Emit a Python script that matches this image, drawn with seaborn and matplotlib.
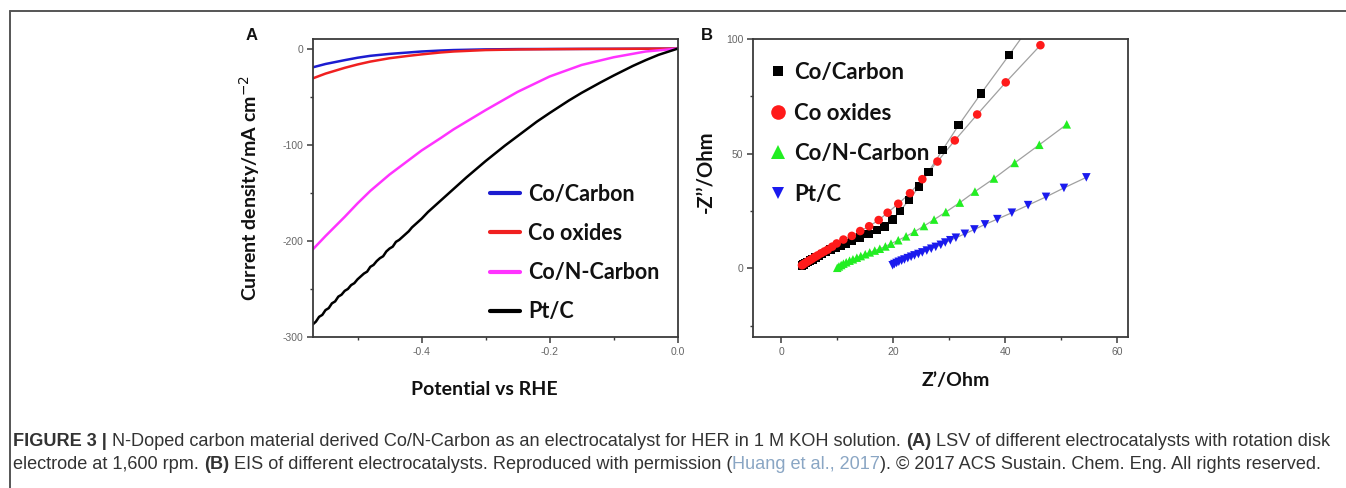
import numpy as np
import pandas as pd
import matplotlib
matplotlib.use("Agg")
import matplotlib.pyplot as plt
import seaborn as sns
from matplotlib.lines import Line2D
from matplotlib.ticker import MultipleLocator
from matplotlib import font_manager

# ---------------- Panel A: LSV curves ----------------
lsv_potential = [-0.57, -0.55, -0.52, -0.50, -0.48, -0.45, -0.42, -0.40, -0.37,
                 -0.35, -0.30, -0.25, -0.20, -0.15, -0.10, -0.05, 0.0]
co_carbon_j = [-19.5, -16.0, -12.0, -9.5, -7.5, -5.5, -4.0, -3.0, -2.0,
               -1.5, -0.8, -0.5, -0.4, -0.3, -0.2, -0.1, 0.0]
co_oxides_j = [-31.0, -26.0, -20.0, -16.5, -13.5, -10.0, -7.5, -6.0, -4.0,
               -3.0, -1.5, -0.9, -0.6, -0.4, -0.3, -0.1, 0.0]
con_carbon_j = [-209.0, -195.0, -175.0, -161.0, -148.0, -131.0, -116.0, -106.0, -93.0,
                -84.0, -64.0, -45.0, -29.0, -17.0, -9.0, -3.0, 0.0]

ptc_potential = [-0.57, -0.565, -0.56, -0.555, -0.55, -0.545, -0.54, -0.535, -0.53,
                 -0.525, -0.52, -0.515, -0.51, -0.505, -0.50, -0.495, -0.49, -0.485,
                 -0.48, -0.475, -0.47, -0.465, -0.46, -0.455, -0.45, -0.445, -0.44,
                 -0.435, -0.43, -0.425, -0.42, -0.415, -0.41, -0.40, -0.39, -0.38,
                 -0.37, -0.36, -0.35, -0.33, -0.30, -0.27, -0.25, -0.22, -0.20,
                 -0.17, -0.15, -0.12, -0.10, -0.07, -0.05, -0.03, 0.0]
ptc_j = [-287, -284, -279, -277, -272, -270, -265, -263, -258,
         -256, -252, -250, -246, -244, -240, -237, -234, -232,
         -227, -225, -221, -218, -216, -211, -208, -206, -201,
         -199, -196, -193, -190, -186, -183, -177, -170, -164,
         -158, -152, -146, -134, -117, -101, -91, -76, -67,
         -54, -46, -35, -28, -18, -12, -6.5, 0]

lsv_labels = ["Co/Carbon", "Co oxides", "Co/N-Carbon", "Pt/C"]
lsv_colors = ["#1c1cd0", "#f02020", "#ff33ff", "#000000"]

# ---------------- Panel B: EIS Nyquist data ----------------
co_carbon_zre = [3.7, 4.0, 4.3, 4.7, 5.1, 5.6, 6.1, 6.7, 7.3, 8.0, 8.8, 9.7, 10.6,
                 11.6, 12.6, 14.1, 15.6, 17.1, 18.4, 19.9, 21.2, 22.8, 24.6, 26.3,
                 28.8, 31.7, 35.7, 40.7, 45.7]
co_carbon_zim = [1.4, 1.8, 2.3, 2.8, 3.4, 4.0, 4.7, 5.5, 6.3, 7.2, 8.2, 9.2, 10.1,
                 11.0, 12.0, 13.5, 15.0, 16.7, 18.4, 21.4, 25.0, 29.8, 35.6, 42.1,
                 51.6, 62.5, 76.3, 93.0, 110.0]
co_oxides_zre = [3.7, 4.0, 4.3, 4.7, 5.1, 5.5, 6.0, 6.5, 7.1, 7.7, 8.3, 9.1, 9.9,
                 11.1, 12.6, 14.1, 15.7, 17.4, 19.0, 20.9, 23.0, 25.2, 27.9, 31.0,
                 35.0, 40.1, 46.3]
co_oxides_zim = [1.4, 1.9, 2.4, 3.0, 3.6, 4.2, 5.0, 5.7, 6.6, 7.4, 8.2, 9.5, 10.9,
                 12.6, 14.2, 16.3, 18.4, 21.1, 24.3, 28.2, 32.8, 38.9, 46.6, 55.8,
                 67.1, 81.1, 97.3]
con_carbon_zre = [10.0, 10.3, 10.7, 11.1, 11.6, 12.2, 12.8, 13.5, 14.2, 15.0, 15.8,
                  16.7, 17.6, 18.6, 19.6, 20.9, 22.3, 23.8, 25.5, 27.3, 29.4, 31.9,
                  34.6, 38.0, 41.7, 46.1, 51.0]
con_carbon_zim = [0.3, 0.9, 1.5, 2.1, 2.7, 3.4, 4.0, 4.7, 5.4, 6.2, 7.0, 7.8, 8.6,
                  9.6, 10.8, 12.3, 14.0, 16.0, 18.5, 21.3, 24.6, 28.7, 33.5, 39.2,
                  46.0, 53.9, 62.8]
ptc_zre = [19.9, 20.2, 20.6, 21.0, 21.5, 22.0, 22.6, 23.2, 23.8, 24.5, 25.2, 26.0,
           26.8, 27.6, 28.5, 29.3, 30.2, 31.2, 32.8, 34.5, 36.4, 38.6, 41.2, 44.1,
           47.3, 50.5, 54.5]
ptc_zim = [1.4, 1.9, 2.4, 2.9, 3.4, 3.9, 4.5, 5.1, 5.7, 6.3, 7.0, 7.8, 8.6, 9.4,
           10.3, 11.3, 12.3, 13.4, 15.1, 17.0, 19.2, 21.5, 24.3, 27.6, 31.2, 35.1, 39.7]

eis_labels = ["Co/Carbon", "Co oxides", "Co/N-Carbon", "Pt/C"]
eis_colors = ["#000000", "#ff1a1a", "#22ee22", "#1a1aee"]
eis_markers = ["s", "o", "^", "v"]

# ---------------- figure setup ----------------
sns.set_theme(style="ticks")
plt.rcParams["font.family"] = ["Liberation Sans", "DejaVu Sans"]

W, H = 1346, 488
fig = plt.figure(figsize=(W / 100, H / 100), dpi=100)
fig.patch.set_facecolor("white")


def fx(px):
    return px / W


def fy(py):
    return 1 - py / H


bold_font = ["Lato", "DejaVu Sans"]
tick_color = "#666666"
spine_color = "#3a3a3a"


def style_axes(ax):
    for s in ax.spines.values():
        s.set_visible(True)
        s.set_color(spine_color)
        s.set_linewidth(1.3)
    ax.tick_params(which="major", direction="out", length=4, width=1.1,
                   color=spine_color, labelsize=7.5, labelcolor=tick_color, pad=3)
    ax.tick_params(which="minor", direction="out", length=2.5, width=1.0,
                   color=spine_color)
    ax.set_facecolor("white")
    ax.grid(False)


# ---------------- Panel A ----------------
axA = fig.add_axes([fx(312.7), fy(337), fx(677.7) - fx(312.7), fy(39) - fy(337)])
lsv_frames = []
for lab, j in zip(lsv_labels[:3], [co_carbon_j, co_oxides_j, con_carbon_j]):
    lsv_frames.append(pd.DataFrame({"E": lsv_potential, "j": j, "cat": lab}))
lsv_frames.append(pd.DataFrame({"E": ptc_potential, "j": ptc_j, "cat": "Pt/C"}))
lsv_df = pd.concat(lsv_frames, ignore_index=True)
sns.lineplot(data=lsv_df, x="E", y="j", hue="cat", hue_order=lsv_labels,
             palette=dict(zip(lsv_labels, lsv_colors)), sort=False,
             estimator=None, linewidth=1.8, ax=axA, legend=False)
axA.set_xlim(-0.57, 0.0)
axA.set_ylim(-300, 10)
axA.xaxis.set_minor_locator(MultipleLocator(0.1))
axA.yaxis.set_minor_locator(MultipleLocator(50))
axA.set_xticks([-0.4, -0.2, 0.0])
axA.set_xticklabels(["-0.4", "-0.2", "0.0"])
axA.set_yticks([0, -100, -200, -300])
axA.set_yticklabels(["0", "-100", "-200", "-300"])
style_axes(axA)
axA.set_xlabel("Potential vs RHE", fontfamily=bold_font, fontweight="bold",
               fontsize=14, color="#111111")
axA.xaxis.set_label_coords(0.47, -0.148)
axA.set_ylabel("Current density/mA cm$^{-2}$", fontfamily=bold_font,
               fontweight="bold", fontsize=14, color="#111111")
axA.yaxis.set_label_coords(-0.138, 0.5)

handlesA = [Line2D([], [], color=c, lw=3) for c in lsv_colors]
legA = axA.legend(handlesA, lsv_labels, loc="upper left",
                  bbox_to_anchor=(0.487, 0.515), frameon=False,
                  prop={"family": bold_font, "weight": "bold", "size": 15.5},
                  handlelength=1.35, handletextpad=0.4, labelspacing=0.85,
                  borderpad=0, borderaxespad=0)
for t in legA.get_texts():
    t.set_color("#111111")

# ---------------- Panel B ----------------
axB = fig.add_axes([fx(753.3), fy(337.3), fx(1128.3) - fx(753.3), fy(39) - fy(337.3)])
eis_frames = []
for lab, zr, zi in zip(eis_labels,
                       [co_carbon_zre, co_oxides_zre, con_carbon_zre, ptc_zre],
                       [co_carbon_zim, co_oxides_zim, con_carbon_zim, ptc_zim]):
    eis_frames.append(pd.DataFrame({"Zre": zr, "Zim": zi, "cat": lab}))
eis_df = pd.concat(eis_frames, ignore_index=True)
for lab in eis_labels:
    sub = eis_df[eis_df["cat"] == lab]
    sns.lineplot(data=sub, x="Zre", y="Zim", sort=False, estimator=None,
                 color="#a0a0a0", linewidth=0.9, ax=axB, legend=False, zorder=1)
sns.scatterplot(data=eis_df, x="Zre", y="Zim", hue="cat", style="cat",
                hue_order=eis_labels, style_order=eis_labels,
                palette=dict(zip(eis_labels, eis_colors)),
                markers=dict(zip(eis_labels, eis_markers)),
                s=38, linewidth=0, ax=axB, legend=False, zorder=3)
axB.set_xlim(-5, 62)
axB.set_ylim(-30, 100)
axB.set_xticks([0, 20, 40, 60])
axB.xaxis.set_minor_locator(MultipleLocator(10))
axB.set_yticks([0, 50, 100])
axB.yaxis.set_minor_locator(MultipleLocator(25))
style_axes(axB)
axB.set_xlabel("Z\u2019/Ohm", fontfamily=bold_font, fontweight="bold",
               fontsize=14, color="#111111")
axB.xaxis.set_label_coords(0.54, -0.115)
axB.set_ylabel("-Z\u2019\u2019/Ohm", fontfamily=bold_font, fontweight="bold",
               fontsize=14.5, color="#111111")
axB.yaxis.set_label_coords(-0.10, 0.555)

marker_sizes = [7, 10.5, 9.5, 8]
handlesB = [Line2D([], [], ls="none", marker=m, color=c, markersize=ms,
                   markeredgewidth=0)
            for m, c, ms in zip(eis_markers, eis_colors, marker_sizes)]
legB = axB.legend(handlesB, eis_labels, loc="upper left",
                  bbox_to_anchor=(0.041, 0.923), frameon=False,
                  prop={"family": bold_font, "weight": "bold", "size": 16},
                  handlelength=0.8, handletextpad=0.35, labelspacing=0.88,
                  borderpad=0, borderaxespad=0)
for t in legB.get_texts():
    t.set_color("#111111")

# Panel letters
fig.text(fx(252), fy(35), "A", fontsize=12, fontweight="bold",
         ha="center", va="center", color="#111111")
fig.text(fx(707), fy(35), "B", fontsize=12, fontweight="bold",
         ha="center", va="center", color="#111111")

# Frame rules (top and left)
fig.add_artist(Line2D([fx(9.5), 1.0], [fy(10.5), fy(10.5)], transform=fig.transFigure,
                      color="#555555", lw=1.4))
fig.add_artist(Line2D([fx(9.5), fx(9.5)], [fy(10.5), 0.0], transform=fig.transFigure,
                      color="#555555", lw=1.4))

# ---------------- Caption ----------------
try:
    font_manager.findfont("Liberation Sans Narrow", fallback_to_default=False)
    cap_family = ["Liberation Sans Narrow", "DejaVu Sans"]
except Exception:
    cap_family = ["Liberation Sans", "DejaVu Sans"]

body_color = "#333333"
link_color = "#8aa6c4"
line1 = [("FIGURE 3 |", "bold", body_color),
         (" N-Doped carbon material derived Co/N-Carbon as an electrocatalyst for HER in 1 M KOH solution. ", "normal", body_color),
         ("(A)", "bold", body_color),
         (" LSV of different electrocatalysts with rotation disk", "normal", body_color)]
line2 = [("electrode at 1,600 rpm. ", "normal", body_color),
         ("(B)", "bold", body_color),
         (" EIS of different electrocatalysts. Reproduced with permission (", "normal", body_color),
         ("Huang et al., 2017", "normal", link_color),
         ("). \u00a9 2017 ACS Sustain. Chem. Eng. All rights reserved.", "normal", body_color)]

renderer = fig.canvas.get_renderer()


def text_w(s, size, weight):
    t = fig.text(0, 0, s, fontsize=size, fontweight=weight, fontfamily=cap_family)
    w = t.get_window_extent(renderer).width
    t.remove()
    return w


def run_width(runs, size):
    total = 0.0
    sp = {}
    for s, wt, _ in runs:
        if wt not in sp:
            sp[wt] = text_w("a a", size, wt) - text_w("aa", size, wt)
        lead = len(s) - len(s.lstrip(" "))
        trail = len(s) - len(s.rstrip(" "))
        total += (lead + trail) * sp[wt] + text_w(s.strip(" "), size, wt)
    return total


def draw_runs(runs, x0, ypx, size):
    x = x0
    sp = {}
    for s, wt, col in runs:
        if wt not in sp:
            sp[wt] = text_w("a a", size, wt) - text_w("aa", size, wt)
        lead = len(s) - len(s.lstrip(" "))
        trail = len(s) - len(s.rstrip(" "))
        x += lead * sp[wt]
        core = s.strip(" ")
        t = fig.text(fx(x), fy(ypx), core, fontsize=size, fontweight=wt,
                     fontfamily=cap_family, color=col, va="baseline", ha="left")
        x += t.get_window_extent(renderer).width + trail * sp[wt]


base = 11.0
cap_size = base * (1333 - 13) / run_width(line1, base)
draw_runs(line1, 13, 446, cap_size)
draw_runs(line2, 13, 469, cap_size)

fig.savefig("out.png", dpi=100, facecolor="white")
